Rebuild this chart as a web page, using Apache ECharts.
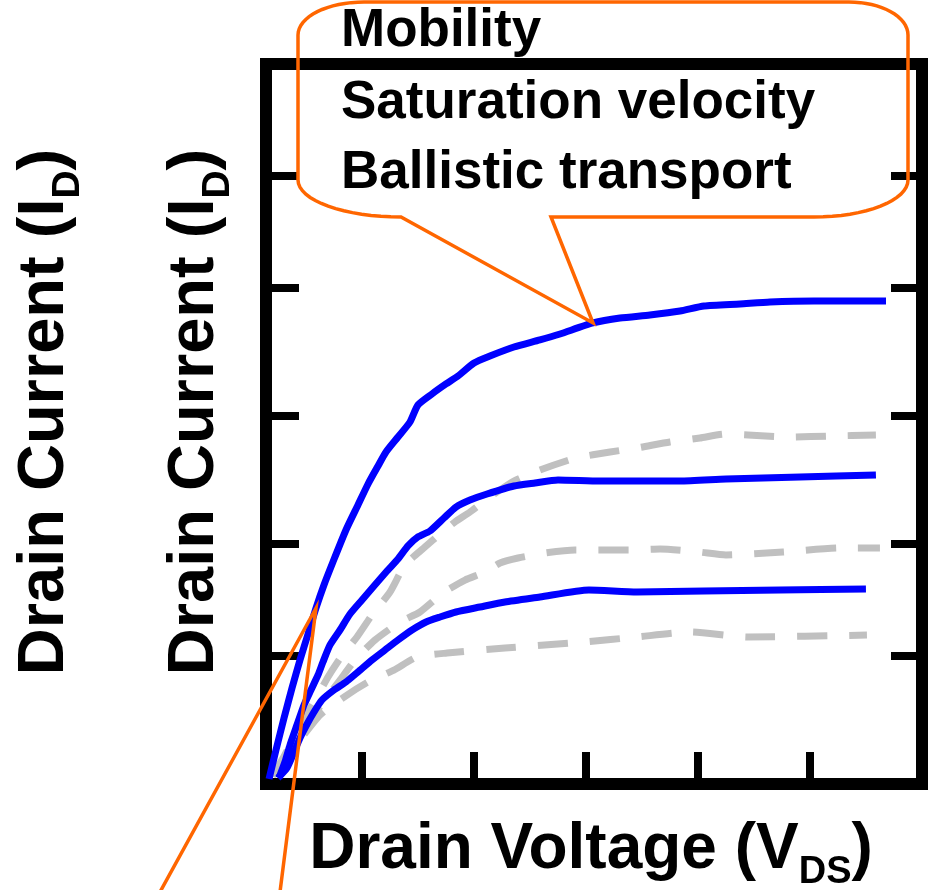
<!DOCTYPE html>
<html>
<head>
<meta charset="utf-8">
<script src="https://cdn.jsdelivr.net/npm/echarts@6/dist/echarts.min.js"></script>
<style>html,body{margin:0;padding:0;background:#fff}#c{width:930px;height:890px}</style>
</head>
<body>
<div id="c"></div>
<script>
// ---- axis ticks (arbitrary units) ----
const xTickValues = [1, 2, 3, 4, 5];
const yTickValues = [17.78, 33.40, 51.11, 68.96, 84.44];

// ---- blue solid curves (I_D vs V_DS) ----
const curveHigh = [[0.177,0.69],[0.239,4.72],[0.311,9.17],[0.382,13.33],[0.453,17.22],[0.525,20.83],[0.596,24.44],[0.667,27.64],[0.747,30.83],[0.863,35.28],[0.970,38.75],[1.060,41.67],[1.149,44.17],[1.220,46.11],[1.327,48.19],[1.434,50.28],[1.505,52.64],[1.630,54.17],[1.755,55.56],[1.862,56.67],[2.005,58.47],[2.147,59.44],[2.361,60.69],[2.593,61.67],[2.772,62.50],[3.066,64.03],[3.307,64.72],[3.574,65.14],[3.842,65.69],[4.056,66.39],[4.377,66.67],[4.644,66.94],[5.037,67.08],[5.358,67.08],[5.679,67.08]];
const curveMid = [[0.266,0.83],[0.319,3.06],[0.364,5.42],[0.426,8.19],[0.489,10.97],[0.551,13.06],[0.614,15.14],[0.658,16.94],[0.721,19.31],[0.810,21.39],[0.899,23.61],[1.006,25.56],[1.113,27.50],[1.229,29.58],[1.327,31.25],[1.416,33.06],[1.505,34.31],[1.612,35.14],[1.737,36.94],[1.844,38.47],[1.969,39.44],[2.121,40.28],[2.361,41.39],[2.549,41.81],[2.754,42.22],[3.128,42.08],[3.842,42.08],[4.252,42.36],[4.912,42.64],[5.589,42.92]];
const curveLow = [[0.257,0.83],[0.337,2.22],[0.400,4.44],[0.453,6.39],[0.507,8.06],[0.578,10.00],[0.649,11.67],[0.756,13.06],[0.863,14.17],[0.970,15.56],[1.095,17.22],[1.211,18.61],[1.327,20.00],[1.452,21.39],[1.577,22.50],[1.702,23.19],[1.844,23.89],[2.058,24.58],[2.281,25.28],[2.593,25.97],[3.030,26.94],[3.458,26.67],[4.056,26.81],[4.734,26.94],[5.500,27.08]];

// ---- grey dashed reference curves ----
const dashHigh = [[0.204,1.11],[0.302,3.61],[0.409,6.81],[0.525,10.00],[0.614,12.36],[0.703,14.86],[0.819,17.64],[0.961,20.42],[1.095,23.47],[1.256,26.67],[1.389,30.42],[1.568,32.92],[1.702,34.72],[1.835,36.39],[1.969,37.78],[2.147,39.86],[2.361,42.08],[2.593,43.61],[2.914,45.28],[3.218,46.11],[3.458,46.67],[3.752,47.50],[4.020,48.06],[4.243,48.61],[4.448,48.47],[4.840,48.19],[5.179,48.33],[5.589,48.47]];
const dashMid = [[0.230,1.25],[0.293,2.64],[0.409,5.42],[0.542,8.89],[0.676,11.67],[0.810,14.44],[0.944,17.22],[1.122,20.00],[1.345,22.50],[1.523,23.89],[1.728,26.53],[1.925,28.33],[2.103,29.44],[2.237,30.69],[2.397,31.39],[2.638,32.08],[2.905,32.50],[3.387,32.50],[3.664,32.64],[4.011,32.22],[4.252,31.81],[4.760,32.22],[5.269,32.78],[5.625,32.78]];
const dashLow = [[0.212,1.11],[0.319,3.33],[0.453,6.11],[0.632,9.58],[0.846,12.08],[1.060,14.17],[1.291,15.83],[1.497,17.64],[1.764,18.19],[2.281,18.89],[2.986,19.72],[3.458,20.42],[3.931,21.11],[4.448,20.42],[5.509,20.69]];

// ---- texts ----
const calloutLines = ['Mobility', 'Saturation velocity', 'Ballistic transport'];
const xTitleRich = '{a|Drain Voltage (V}{b|DS}{a|)}';
const yTitleRich = '{a|Drain Current (I}{b|D}{a|)}';

// annotation anchors (points on the top curve)
const calloutTopAnchor = curveHigh[25];
const calloutLowAnchor = curveHigh[6];

const FONT = "'Liberation Sans', Arial, Helvetica, sans-serif";
const BLUE = '#0000FF', GREY = '#C0C0C0', ORANGE = '#FF6600';

const chart = echarts.init(document.getElementById('c'), null, {renderer: 'canvas'});

function richTitle(size) {
  const sub = Math.round(size * 0.6);
  return {
    a: {fontSize: size, fontWeight: 'bold', fontFamily: FONT, color: '#000', lineHeight: size, verticalAlign: 'top'},
    b: {fontSize: sub, fontWeight: 'bold', fontFamily: FONT, color: '#000', lineHeight: sub, verticalAlign: 'top', padding: [Math.round(size * 0.56), 0, 0, 0]}
  };
}

const tickCommon = {show: true, inside: true, lineStyle: {color: '#000', width: 8}};

function lineSeries(name, data, color, dashed) {
  return {
    name, type: 'line', data, showSymbol: false, symbol: 'none', smooth: 0.2, clip: false,
    z: dashed ? 2 : 3,
    lineStyle: {color, width: 7, type: dashed ? [30, 22] : 'solid', cap: 'butt', join: 'round'}
  };
}

chart.setOption({
  animation: false,
  backgroundColor: '#fff',
  grid: {left: 266, right: 8, top: 64, bottom: 106, show: true, borderColor: '#000', borderWidth: 12, containLabel: false, outerBoundsMode: 'none'},
  xAxis: {
    type: 'value', min: 0.15, max: 6,
    axisLine: {show: false},
    axisTick: Object.assign({}, tickCommon, {length: 32, customValues: xTickValues}),
    axisLabel: {show: false},
    splitLine: {show: false},
    name: xTitleRich, nameLocation: 'middle', nameGap: 34,
    nameTextStyle: {rich: richTitle(64), padding: [0, 6, 0, 0]}
  },
  yAxis: [{
    type: 'value', min: 0, max: 100, position: 'left',
    axisLine: {show: false},
    axisTick: Object.assign({}, tickCommon, {length: 33, customValues: yTickValues}),
    axisLabel: {show: false},
    splitLine: {show: false},
    name: yTitleRich, nameLocation: 'middle', nameGap: 38,
    nameTextStyle: {rich: richTitle(65), padding: [0, 0, 0, 24]}
  }, {
    type: 'value', min: 0, max: 100, position: 'right',
    axisLine: {show: false},
    axisTick: Object.assign({}, tickCommon, {length: 31, customValues: yTickValues}),
    axisLabel: {show: false},
    splitLine: {show: false}
  }],
  series: [
    lineSeries('Ballistic ref high', dashHigh, GREY, true),
    lineSeries('Ballistic ref mid', dashMid, GREY, true),
    lineSeries('Ballistic ref low', dashLow, GREY, true),
    lineSeries('I_D high', curveHigh, BLUE, false),
    lineSeries('I_D mid', curveMid, BLUE, false),
    lineSeries('I_D low', curveLow, BLUE, false)
  ]
});

// ---- callout bubble and annotation lines ----
const tip = chart.convertToPixel({gridIndex: 0}, calloutTopAnchor);
const apex = chart.convertToPixel({gridIndex: 0}, calloutLowAnchor);

function arc(cx, cy, rx, ry, a0, a1, n) {
  const pts = [];
  for (let i = 0; i <= n; i++) {
    const a = a0 + (a1 - a0) * i / n;
    pts.push([cx + rx * Math.cos(a), cy + ry * Math.sin(a)]);
  }
  return pts;
}
const L = 298, R = 908, T = 2, B = 217;
let bubble = [[551, B]];
bubble = bubble.concat(arc(R - 94, B - 37, 94, 37, Math.PI / 2, 0, 16));
bubble = bubble.concat(arc(R - 59, T + 33, 59, 33, 0, -Math.PI / 2, 16));
bubble = bubble.concat(arc(L + 66, T + 33, 66, 33, -Math.PI / 2, -Math.PI, 16));
bubble = bubble.concat(arc(L + 103, B - 37, 103, 37, Math.PI, Math.PI / 2, 16));
bubble.push([tip[0], tip[1]]);

const textStyle = (t) => ({text: t, fontSize: 53, fontWeight: 'bold', fontFamily: FONT, fill: '#000', align: 'left', verticalAlign: 'middle'});

chart.setOption({
  graphic: [
    {type: 'polygon', shape: {points: bubble}, style: {fill: 'none', stroke: ORANGE, lineWidth: 3.5, lineJoin: 'miter'}, z: 10},
    {type: 'text', x: 341, y: 31.6, style: textStyle(calloutLines[0]), z: 11},
    {type: 'text', x: 341, y: 103.6, style: textStyle(calloutLines[1]), z: 11},
    {type: 'text', x: 341, y: 173.6, style: textStyle(calloutLines[2]), z: 11},
    {type: 'polyline', shape: {points: [[160, 892], [apex[0], apex[1]], [280, 892]]}, style: {fill: 'none', stroke: ORANGE, lineWidth: 3.5}, z: 10},
    {type: 'text', x: 13, y: 412, rotation: Math.PI / 2, style: {text: yTitleRich, rich: richTitle(65), align: 'center', verticalAlign: 'top'}, z: 11}
  ]
});
</script>
</body>
</html>
